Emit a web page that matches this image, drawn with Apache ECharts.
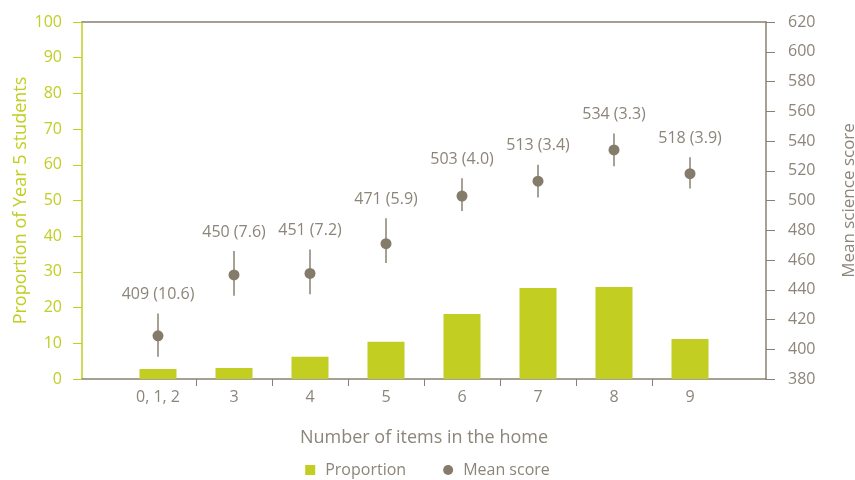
<!DOCTYPE html>
<html>
<head>
<meta charset="utf-8">
<script src="https://cdn.jsdelivr.net/npm/echarts@6/dist/echarts.min.js"></script>
<style>
  html, body { margin: 0; padding: 0; background: #fff; }
  #chart { width: 855px; height: 480px; }
</style>
</head>
<body>
<div id="chart"></div>
<script>
// values
const categories = ['0, 1, 2', '3', '4', '5', '6', '7', '8', '9'];
const proportion = [2.8, 3.1, 6.2, 10.4, 18.2, 25.5, 25.8, 11.2];
const meanScore = [409, 450, 451, 471, 503, 513, 534, 518];
const stdError = [10.6, 7.6, 7.2, 5.9, 4.0, 3.4, 3.3, 3.9];
const errLow = [395, 436, 437, 458, 493, 502, 523, 508];
const errHigh = [424, 466, 467, 488, 515, 524, 545, 529];

const green = '#c2ce22';
const grey = '#8a8070';
const textGrey = '#8c857a';
const font = '"Open Sans", Lato, sans-serif';

const chart = echarts.init(document.getElementById('chart'));

const idx = categories.map((c, i) => i);
const tickPos = idx.slice(0, -1).map(i => i + 0.5);

const option = {
  animation: false,
  textStyle: { fontFamily: font },
  grid: { left: 82, right: 89, top: 22, bottom: 101, outerBoundsMode: 'none', containLabel: false },
  legend: {
    top: 457,
    left: 'center',
    itemWidth: 10,
    itemHeight: 10,
    itemGap: 37,
    textStyle: { color: textGrey, fontSize: 16, fontFamily: font, padding: [0, 0, 0, 5] },
    data: [
      { name: 'Proportion', icon: 'rect' },
      { name: 'Mean score', icon: 'circle' }
    ]
  },
  xAxis: [
    {
      type: 'value',
      min: -1,
      max: 8,
      position: 'bottom',
      name: 'Number of items in the home',
      nameLocation: 'middle',
      nameGap: 50,
      nameTextStyle: { color: textGrey, fontSize: 18, fontFamily: font },
      splitLine: { show: false },
      axisLine: { show: true, onZero: false, lineStyle: { color: grey, width: 1.5 } },
      axisTick: { show: true, length: 7, customValues: tickPos, lineStyle: { color: grey } },
      axisLabel: {
        customValues: idx,
        margin: 10,
        color: textGrey,
        fontSize: 16,
        formatter: v => categories[Math.round(v)] || ''
      }
    },
    {
      type: 'value',
      min: -1,
      max: 8,
      position: 'top',
      splitLine: { show: false },
      axisLine: { show: true, onZero: false, lineStyle: { color: grey, width: 1.5 } },
      axisTick: { show: false },
      axisLabel: { show: false }
    }
  ],
  yAxis: [
    {
      type: 'value',
      min: 0,
      max: 100,
      interval: 10,
      position: 'left',
      name: 'Proportion of Year 5 students',
      nameLocation: 'middle',
      nameGap: 52,
      nameMoveOverlap: false,
      nameTextStyle: { color: green, fontSize: 18, fontFamily: font },
      splitLine: { show: false },
      axisLine: { show: true, onZero: false, lineStyle: { color: green, width: 1.5 } },
      axisTick: { show: true, length: 9, lineStyle: { color: green } },
      axisLabel: { color: green, fontSize: 16, margin: 20 }
    },
    {
      type: 'value',
      min: 380,
      max: 620,
      interval: 20,
      position: 'right',
      name: 'Mean science score',
      nameLocation: 'middle',
      nameGap: 75,
      nameRotate: 90,
      nameTextStyle: { color: textGrey, fontSize: 17, fontFamily: font },
      splitLine: { show: false },
      axisLine: { show: true, onZero: false, lineStyle: { color: grey, width: 1.5 } },
      axisTick: { show: true, length: 9, lineStyle: { color: grey } },
      axisLabel: { color: textGrey, fontSize: 16, margin: 22 }
    }
  ],
  series: [
    {
      name: 'Proportion',
      type: 'bar',
      xAxisIndex: 0,
      yAxisIndex: 0,
      barWidth: 37,
      itemStyle: { color: green },
      data: proportion.map((v, i) => [i, v])
    },
    {
      name: 'error',
      type: 'custom',
      xAxisIndex: 0,
      yAxisIndex: 1,
      z: 3,
      renderItem: function (params, api) {
        const x = api.value(0);
        const lo = api.coord([x, api.value(1)]);
        const hi = api.coord([x, api.value(2)]);
        const i = params.dataIndex;
        return {
          type: 'group',
          children: [
            {
              type: 'line',
              shape: { x1: lo[0], y1: lo[1], x2: hi[0], y2: hi[1] },
              style: { stroke: grey, lineWidth: 1.5 }
            },
            {
              type: 'text',
              x: hi[0],
              y: hi[1] - 19,
              style: {
                text: meanScore[i] + ' (' + stdError[i].toFixed(1) + ')',
                fill: textGrey,
                font: '16px ' + font,
                align: 'center',
                verticalAlign: 'middle'
              }
            }
          ]
        };
      },
      data: idx.map(i => [i, errLow[i], errHigh[i]])
    },
    {
      name: 'Mean score',
      type: 'scatter',
      xAxisIndex: 0,
      yAxisIndex: 1,
      z: 4,
      symbol: 'circle',
      symbolSize: 11,
      itemStyle: { color: '#857b6b', opacity: 1 },
      data: meanScore.map((v, i) => [i, v])
    }
  ]
};

chart.setOption(option);
</script>
</body>
</html>
